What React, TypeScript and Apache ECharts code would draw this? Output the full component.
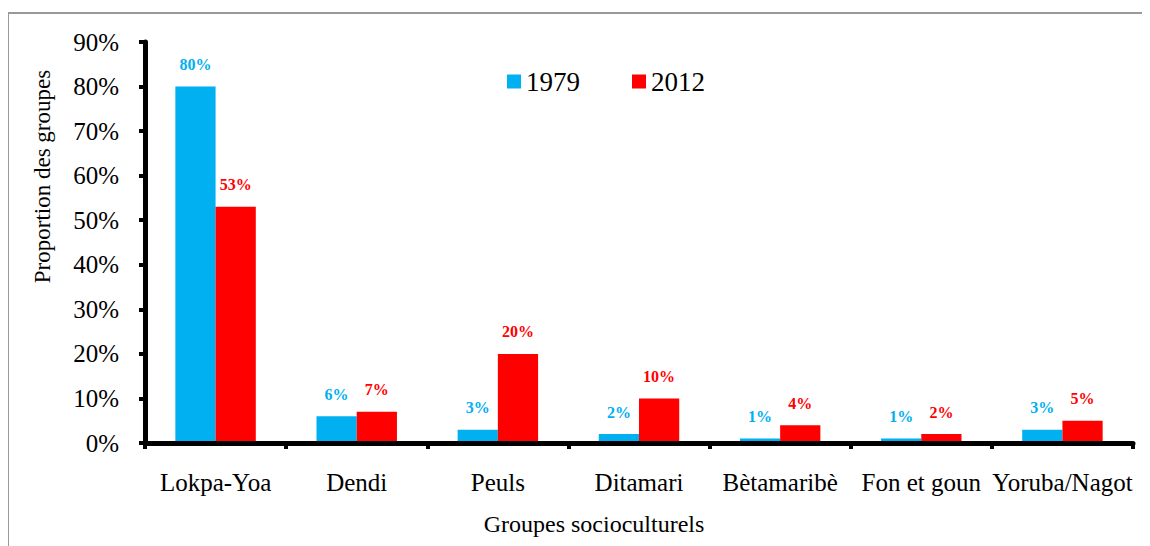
import React, { useEffect, useRef } from "react";
import * as echarts from "echarts";

const categories = ["Lokpa-Yoa", "Dendi", "Peuls", "Ditamari", "Bètamaribè", "Fon et goun", "Yoruba/Nagot"];
const values1979 = [80, 6, 3, 2, 1, 1, 3];
const values2012 = [53, 7, 20, 10, 4, 2, 5];
const yTicks = [0, 10, 20, 30, 40, 50, 60, 70, 80, 90];

const FONT = "Liberation Serif";
const BLUE = "#00B0F0";
const RED = "#FF0000";

export default function App() {
  const ref = useRef<HTMLDivElement>(null);
  useEffect(() => {
    if (!ref.current) return;
    const chart = echarts.init(ref.current, null, { renderer: "svg" });
    const axisTick = {
      show: true,
      length: 6,
      lineStyle: { color: "#000", width: 4 },
    };
    chart.setOption({
      animation: false,
      backgroundColor: "#fff",
      textStyle: { fontFamily: FONT },
      graphic: [
        { type: "line", shape: { x1: 0, y1: 5, x2: 1142, y2: 5 }, style: { stroke: "#999", lineWidth: 2 } },
        { type: "line", shape: { x1: 0, y1: 4, x2: 0, y2: 538 }, style: { stroke: "#999", lineWidth: 2 } },
      ],
      legend: {
        left: 494,
        top: 55,
        icon: "rect",
        itemWidth: 14,
        itemHeight: 14,
        itemGap: 52,
        textStyle: { fontFamily: FONT, fontSize: 27, color: "#000" },
        data: ["1979", "2012"],
      },
      grid: { left: 137, right: 17, top: 34, bottom: 103, containLabel: false },
      xAxis: {
        type: "category",
        data: categories,
        z: 5,
        axisLine: { show: true, onZero: false, lineStyle: { color: "#000", width: 5 } },
        axisTick,
        axisLabel: { fontFamily: FONT, fontSize: 25, color: "#000", margin: 27, interval: 0 },
        name: "Groupes socioculturels",
        nameLocation: "middle",
        nameGap: 69,
        nameTextStyle: { fontFamily: FONT, fontSize: 24, color: "#000", padding: [0, 90, 0, 0] },
      },
      yAxis: {
        type: "value",
        min: 0,
        max: 90,
        interval: 10,
        z: 5,
        axisLine: { show: true, lineStyle: { color: "#000", width: 5 } },
        axisTick,
        splitLine: { show: false },
        axisLabel: {
          fontFamily: FONT,
          fontSize: 25,
          color: "#000",
          margin: 26,
          formatter: (v: number) => (yTicks.includes(v) ? v + "%" : ""),
        },
        name: "Proportion des groupes",
        nameLocation: "middle",
        nameGap: 91,
        nameTextStyle: { fontFamily: FONT, fontSize: 23, color: "#000", padding: [0, 0, 0, 132] },
      },
      series: [
        {
          name: "1979",
          type: "bar",
          data: values1979,
          barGap: "0%",
          barCategoryGap: "43%",
          itemStyle: { color: BLUE },
          label: {
            show: true,
            position: "top",
            distance: 14,
            formatter: "{c}%",
            fontFamily: FONT,
            fontSize: 16,
            fontWeight: "bold",
            color: BLUE,
          },
        },
        {
          name: "2012",
          type: "bar",
          data: values2012,
          itemStyle: { color: RED },
          label: {
            show: true,
            position: "top",
            distance: 14,
            formatter: "{c}%",
            fontFamily: FONT,
            fontSize: 16,
            fontWeight: "bold",
            color: RED,
          },
        },
      ],
    });
    return () => chart.dispose();
  }, []);
  return <div ref={ref} style={{ width: 1142, height: 538 }} />;
}
